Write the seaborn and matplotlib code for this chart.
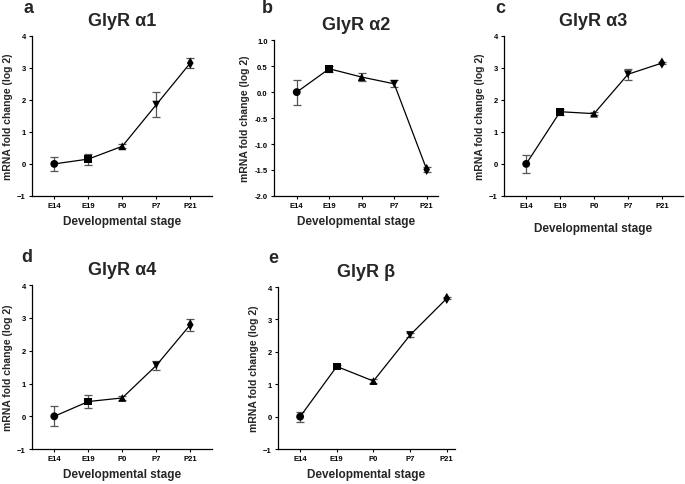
import matplotlib
matplotlib.use("Agg")
import matplotlib.pyplot as plt
import seaborn as sns
import pandas as pd

# -- Data ------------------------------------------------------------------
stages = ["E14", "E19", "P0", "P7", "P21"]
stage_markers = ["o", "s", "^", "v", "d"]

titles = ["GlyR α1", "GlyR α2", "GlyR α3", "GlyR α4", "GlyR β"]
letters = ["a", "b", "c", "d", "e"]

a1_mean = [0.0, 0.15, 0.55, 1.85, 3.15]
a1_err = [0.22, 0.17, 0.06, 0.40, 0.15]
a2_mean = [0.0, 0.45, 0.29, 0.16, -1.49]
a2_err = [0.24, 0.06, 0.07, 0.07, 0.05]
a3_mean = [0.0, 1.63, 1.57, 2.80, 3.15]
a3_err = [0.28, 0.10, 0.04, 0.17, 0.04]
a4_mean = [0.0, 0.45, 0.56, 1.55, 2.79]
a4_err = [0.30, 0.19, 0.07, 0.15, 0.18]
b_mean = [0.0, 1.55, 1.10, 2.52, 3.65]
b_err = [0.15, 0.05, 0.05, 0.05, 0.03]

means = [a1_mean, a2_mean, a3_mean, a4_mean, b_mean]
errs = [a1_err, a2_err, a3_err, a4_err, b_err]

yranges = [(-1, 4), (-2, 1), (-1, 4), (-1, 4), (-1, 4)]
yticks = [[-1, 0, 1, 2, 3, 4],
          [-2.0, -1.5, -1.0, -0.5, 0.0, 0.5, 1.0],
          [-1, 0, 1, 2, 3, 4],
          [-1, 0, 1, 2, 3, 4],
          [-1, 0, 1, 2, 3, 4]]

# -- Layout (figure fraction) ------------------------------------------------
rects = [(0.047, 0.594, 0.263, 0.330),
         (0.400, 0.594, 0.239, 0.321),
         (0.736, 0.594, 0.261, 0.330),
         (0.047, 0.072, 0.263, 0.338),
         (0.406, 0.072, 0.258, 0.334)]
xlims = [(-0.65, 4.65), (-0.7, 4.34), (-0.65, 4.62), (-0.65, 4.65), (-0.6, 4.22)]
letter_xy = [(23, 13), (262, 13), (495, 13), (21, 262), (268, 263)]  # pixels

# -- Setup -----------------------------------------------------------------
sns.set_theme(style="ticks")
plt.rcParams["font.family"] = ["Liberation Sans", "DejaVu Sans"]
plt.rcParams["font.weight"] = "bold"

fig = plt.figure(figsize=(6.85, 4.85), dpi=100)

for i in range(5):
    ax = fig.add_axes(rects[i])
    df = pd.DataFrame({"stage": stages, "pos": range(5),
                       "mean": means[i], "err": errs[i]})

    ax.errorbar(df["pos"], df["mean"], yerr=df["err"], fmt="none",
                ecolor="#555555", elinewidth=0.9, capsize=3, capthick=0.9, zorder=2)
    sns.lineplot(data=df, x="pos", y="mean", color="black", linewidth=0.9,
                 ax=ax, zorder=3)
    sns.scatterplot(data=df, x="pos", y="mean", style="stage",
                    markers=dict(zip(stages, stage_markers)), color="black",
                    s=32, edgecolor="black", linewidth=0, legend=False,
                    ax=ax, zorder=4)

    ax.set_xlim(*xlims[i])
    ax.set_ylim(*yranges[i])
    ax.set_xticks(range(5))
    ax.set_xticklabels(stages)
    ax.set_yticks(yticks[i])
    if i == 1:
        ax.set_yticklabels([f"{v:.1f}" for v in yticks[i]])
    ax.tick_params(axis="both", labelsize=5.5, length=2.5, width=0.8,
                   colors="black", pad=2)
    for lab in ax.get_xticklabels() + ax.get_yticklabels():
        lab.set_fontweight("bold")
    for side in ["top", "right"]:
        ax.spines[side].set_visible(False)
    for side in ["left", "bottom"]:
        ax.spines[side].set_linewidth(0.9)
        ax.spines[side].set_color("black")

    ax.set_xlabel("Developmental stage", fontsize=8.5, fontweight="bold",
                  labelpad=4 if i != 2 else 9)
    ax.set_ylabel("mRNA fold change (log 2)", fontsize=7.5, fontweight="bold",
                  labelpad=3)
    ax.set_title(titles[i], fontsize=13, fontweight="bold", pad=8)

    lx, ly = letter_xy[i]
    fig.text(lx / 685, 1 - ly / 485, letters[i], fontsize=13,
             fontweight="bold", ha="left", va="baseline")

fig.savefig("out.png", dpi=100)
